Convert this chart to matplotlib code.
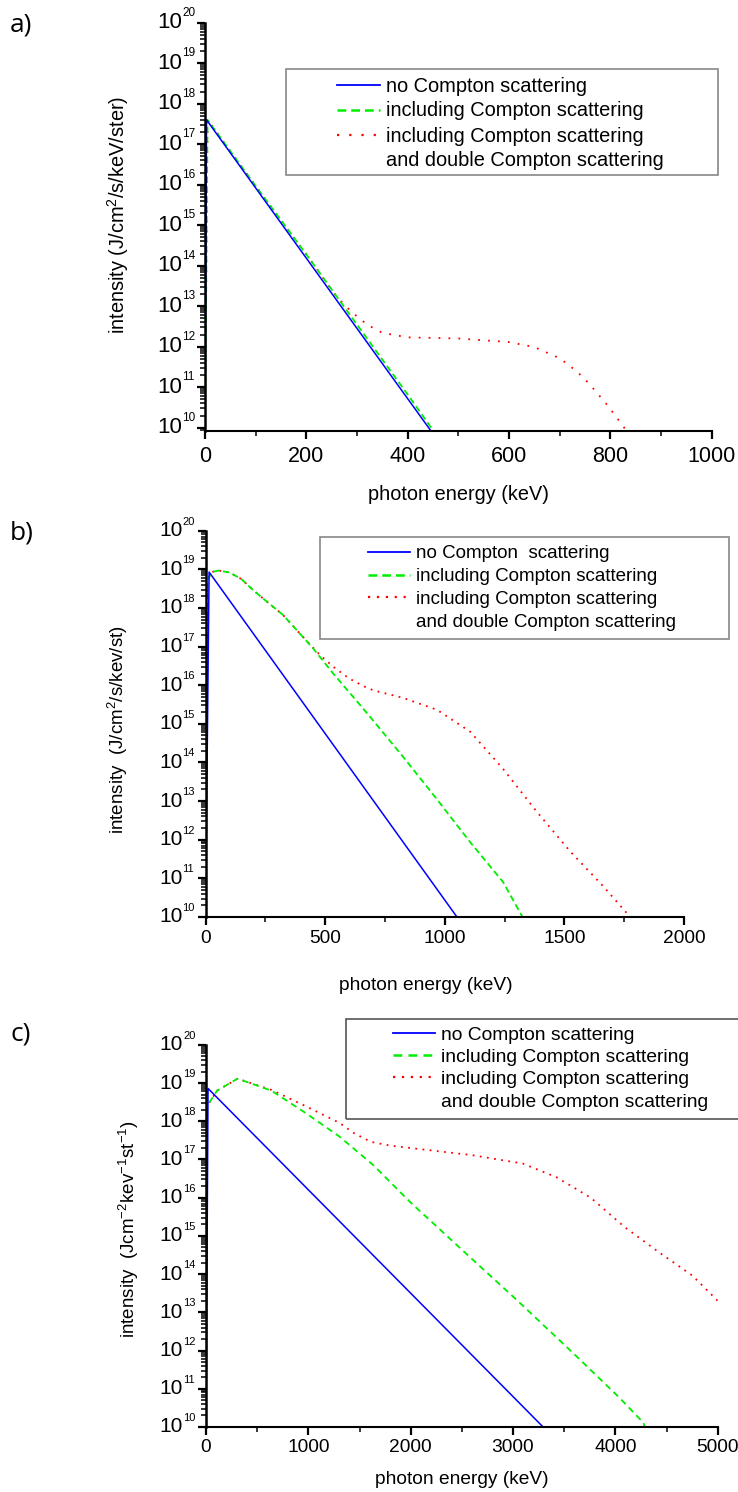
import numpy as np
import matplotlib
matplotlib.use('Agg')
import matplotlib.pyplot as plt
from matplotlib.lines import Line2D
from matplotlib.patches import Rectangle
from matplotlib.ticker import LogLocator, MultipleLocator, NullFormatter
from matplotlib.transforms import offset_copy

plt.rcParams['font.family'] = ['Liberation Sans', 'DejaVu Sans']
plt.rcParams['mathtext.fontset'] = 'custom'
plt.rcParams['mathtext.rm'] = 'Liberation Sans'
plt.rcParams['mathtext.it'] = 'Liberation Sans:italic'
plt.rcParams['mathtext.bf'] = 'Liberation Sans:bold'

# ---- data (photon energy in keV, intensity) ----
# panel a
a_blue_x = [0, 3, 446]
a_blue_y = [8.3e9, 4.0e17, 8.3e9]
a_green_x = [0, 5, 100, 200, 300, 400, 451]
a_green_y = [8.3e9, 4.0e17, 9.3e15, 1.9e14, 3.5e12, 6.6e10, 8.3e9]
a_red_x = [0, 5, 100, 200, 260, 290, 320, 350, 400, 500, 600, 650, 700, 735, 760, 795, 825, 832]
a_red_y = [8.3e9, 4.0e17, 9.3e15, 1.9e14, 1.7e13, 7.1e12, 3.5e12, 2.2e12, 1.7e12, 1.6e12,
           1.3e12, 9.8e11, 5.2e11, 2.4e11, 1.15e11, 3.5e10, 1.1e10, 8.3e9]

# panel b
b_blue_x = [0, 15, 1051]
b_blue_y = [1e10, 8.5e18, 1e10]
b_green_x = [0, 8, 25, 55, 100, 150, 199, 260, 324, 449, 534, 675, 826, 968, 1106, 1244, 1325]
b_green_y = [1e10, 5.0e18, 8.5e18, 9.3e18, 8.3e18, 5.6e18, 2.9e18, 1.4e18, 6.6e17, 9.1e16,
             2.0e16, 1.9e15, 1.4e14, 1.1e13, 8.7e11, 8.0e10, 1e10]
b_red_x = [0, 8, 25, 55, 100, 150, 199, 260, 324, 400, 479, 534, 600, 675, 708, 826, 968,
           1106, 1244, 1386, 1524, 1662, 1775]
b_red_y = [1e10, 5.0e18, 8.5e18, 9.3e18, 8.3e18, 5.6e18, 2.9e18, 1.4e18, 6.6e17, 2.0e17,
           6.0e16, 3.0e16, 1.5e16, 8.5e15, 7.2e15, 4.7e15, 2.3e15, 6.3e14, 6.8e13, 5.2e12,
           5.0e11, 6.3e10, 1e10]

# panel c
c_blue_x = [0, 20, 3294]
c_blue_y = [1e10, 7.2e18, 1e10]
c_green_x = [0, 10, 108, 308, 640, 971, 1303, 1635, 2001, 2598, 3029, 3593, 4041, 4273, 4290]
c_green_y = [1e10, 2.5e18, 6.3e18, 1.3e19, 6.3e18, 1.66e18, 4.0e17, 7.1e16, 7.4e15, 2.5e14,
             2.2e13, 8.3e11, 5.8e10, 1.3e10, 1e10]
c_red_x = [0, 10, 108, 308, 640, 971, 1303, 1450, 1610, 1800, 2101, 2598, 3096, 3427, 3759,
           4091, 4422, 4754, 5000]
c_red_y = [1e10, 2.5e18, 6.3e18, 1.3e19, 6.6e18, 2.5e18, 9.1e17, 4.8e17, 2.9e17, 2.3e17,
           1.85e17, 1.3e17, 7.8e16, 3.4e16, 1.0e16, 1.7e15, 3.8e14, 9.1e13, 2.0e13]

labels_a = ["no Compton scattering", "including Compton scattering",
            "including Compton scattering", "and double Compton scattering"]
labels_b = ["no Compton  scattering", "including Compton scattering",
            "including Compton scattering", "and double Compton scattering"]
labels_c = labels_a

W, H = 738, 1492
fig = plt.figure(figsize=(W / 100, H / 100), dpi=100)


def px_box(left, right, top, bottom):
    return [left / W, 1 - bottom / H, (right - left) / W, (bottom - top) / H]


def ftext(x, y, s, **kw):
    fig.text(x / W, 1 - y / H, s, **kw)


def style_axes(ax, xmax, xmajor, xminor, ymin, tick_fs, base_fs, exp_fs, xpad):
    ax.set_yscale('log')
    ax.set_xlim(0, xmax)
    ax.set_ylim(ymin, 1e20)
    for s in ['top', 'right']:
        ax.spines[s].set_visible(False)
    ax.spines['left'].set_linewidth(1.8)
    ax.spines['bottom'].set_linewidth(1.5)
    ax.xaxis.set_major_locator(MultipleLocator(xmajor))
    ax.xaxis.set_minor_locator(MultipleLocator(xminor))
    ax.yaxis.set_major_locator(LogLocator(base=10, numticks=30))
    ax.yaxis.set_minor_locator(LogLocator(base=10, subs=np.arange(2, 10), numticks=30))
    ax.yaxis.set_major_formatter(NullFormatter())
    ax.yaxis.set_minor_formatter(NullFormatter())
    ax.tick_params(axis='both', which='major', direction='out', length=6, width=1.6)
    ax.tick_params(axis='both', which='minor', direction='out', length=3.5, width=1.1)
    ax.tick_params(axis='x', labelsize=tick_fs, pad=xpad)
    # "10" with a small exponent, like the original
    trans = ax.get_yaxis_transform()
    base_t = offset_copy(trans, fig=fig, x=-23, y=0, units='dots')
    exp_t = offset_copy(trans, fig=fig, x=-23, y=4, units='dots')
    for k in range(10, 21):
        ax.text(0, 10.0 ** k, '10', transform=base_t, ha='right', va='center', fontsize=base_fs)
        ax.text(0, 10.0 ** k, str(k), transform=exp_t, ha='left', va='bottom', fontsize=exp_fs)


def draw_curves(ax, bx, by, gx, gy, rx, ry, red_dots, green_dash):
    ax.plot(rx, ry, color='#ff0000', lw=1.3, ls=(0, red_dots))
    ax.plot(gx, gy, color='#00ee00', lw=1.3, ls=(0, green_dash))
    ax.plot(bx, by, color='#0000ff', lw=1.1)


def add_legend(ax, labels, anchor, fs, hlen, hpad, lspace, box, edge, red_dots, green_dash):
    handles = [Line2D([], [], color='#0000ff', lw=1.3),
               Line2D([], [], color='#00ee00', lw=1.8, ls=(0, green_dash)),
               Line2D([], [], color='#ff0000', lw=1.6, ls=(0, red_dots)),
               Line2D([], [], color='none')]
    ax.legend(handles, labels, loc='upper left',
              bbox_to_anchor=(anchor[0] / W, 1 - anchor[1] / H),
              bbox_transform=fig.transFigure, frameon=False, borderpad=0,
              borderaxespad=0, fontsize=fs, handlelength=hlen,
              handletextpad=hpad, labelspacing=lspace)
    x0, y0, x1, y1 = box
    fig.add_artist(Rectangle((x0 / W, 1 - y1 / H), (x1 - x0) / W, (y1 - y0) / H,
                             transform=fig.transFigure, fill=False,
                             edgecolor=edge, lw=1.2))


# ---- panel a ----
ax_a = fig.add_axes(px_box(205, 711.7, 22.7, 431))
style_axes(ax_a, 1000, 200, 100, 8.3e9, 15.5, 16, 8.5, 5)
draw_curves(ax_a, a_blue_x, a_blue_y, a_green_x, a_green_y, a_red_x, a_red_y,
            (1, 4.5), (3.5, 2))
add_legend(ax_a, labels_a, (337, 76.5), 14.4, 2.15, 0.3, 0.3,
           (285.7, 69, 718, 175), '#888888', (1, 4.5), (3.5, 2))
ftext(10, 25, 'a)', fontsize=19, family=['Open Sans'], ha='left', va='center')
ftext(118, 215, 'intensity (J/cm$^2$/s/keV/ster)', fontsize=14.4, rotation=90,
      ha='center', va='center')
ftext(458, 495, 'photon energy (keV)', fontsize=14.3, ha='center', va='center')

# ---- panel b ----
ax_b = fig.add_axes(px_box(205.5, 684, 530.7, 917))
style_axes(ax_b, 2000, 500, 250, 1e10, 13.8, 15, 8, 3.5)
draw_curves(ax_b, b_blue_x, b_blue_y, b_green_x, b_green_y, b_red_x, b_red_y,
            (1, 3), (3.5, 2))
add_legend(ax_b, labels_b, (368, 545), 13.5, 2.24, 0.32, 0.31,
           (320, 537.3, 729, 639), '#888888', (1, 3), (3.5, 2))
ftext(10, 533, 'b)', fontsize=19, family=['Open Sans'], ha='left', va='center')
ftext(118, 730, 'intensity  (J/cm$^2$/s/kev/st)', fontsize=13.5, rotation=90,
      ha='center', va='center')
ftext(426, 985.5, 'photon energy (keV)', fontsize=13.8, ha='center', va='center')

# ---- panel c ----
ax_c = fig.add_axes(px_box(206, 717.7, 1044.8, 1427))
style_axes(ax_c, 5000, 1000, 500, 1e10, 13.8, 15, 8, 3)
draw_curves(ax_c, c_blue_x, c_blue_y, c_green_x, c_green_y, c_red_x, c_red_y,
            (1, 3), (3.5, 2.5))
add_legend(ax_c, labels_c, (393, 1026), 13.9, 2.15, 0.32, 0.25,
           (345.7, 1018.7, 745, 1118.5), '#555555', (1, 3), (3.5, 2.5))
ftext(10, 1034, 'c)', fontsize=19, family=['Open Sans'], ha='left', va='center')
ftext(129, 1229, 'intensity  (Jcm$^{-2}$kev$^{-1}$st$^{-1}$)', fontsize=13.5, rotation=90,
      ha='center', va='center')
ftext(462, 1479, 'photon energy (keV)', fontsize=13.8, ha='center', va='center')

fig.savefig('out.png', dpi=100)
